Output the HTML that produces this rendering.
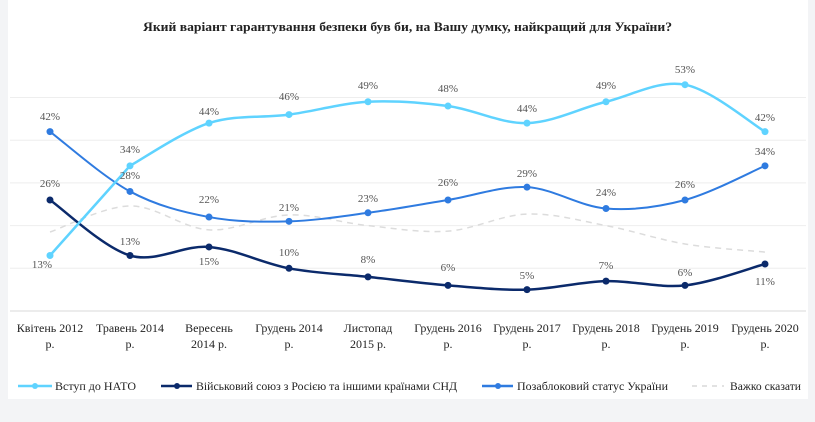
<!DOCTYPE html>
<html><head><meta charset="utf-8"><style>
body{margin:0;width:815px;height:422px;background:#f3f4f6;overflow:hidden}
</style></head><body>
<svg id="s" width="815" height="422" xmlns="http://www.w3.org/2000/svg" style="position:absolute;left:0;top:0;font-family:'Liberation Serif',serif">
<rect x="8" y="0" width="800" height="399" fill="#fff"/>
<text x="143" y="31" textLength="529" lengthAdjust="spacingAndGlyphs" font-size="13" font-weight="bold" fill="#222">Який варіант гарантування безпеки був би, на Вашу думку, найкращий для України?</text>
<g id="grid" stroke="#eeeeee" stroke-width="1"></g>
<line x1="10" y1="311" x2="806" y2="311" stroke="#d9d9d9"/>
<g id="lines"></g>
<g id="labels" font-size="11" fill="#555" text-anchor="middle"></g>
<g id="xl" font-size="12" fill="#222" text-anchor="middle"></g>
<g font-size="12" fill="#222">
<line x1="18" y1="386" x2="52" y2="386" stroke="#5fd3ff" stroke-width="2.5"/><circle cx="35" cy="386" r="3" fill="#5fd3ff"/>
<text x="55" y="390" textLength="81" lengthAdjust="spacingAndGlyphs">Вступ до НАТО</text>
<line x1="161" y1="386" x2="192" y2="386" stroke="#0b2a6b" stroke-width="2.5"/><circle cx="177" cy="386" r="3" fill="#0b2a6b"/>
<text x="196" y="390" textLength="261" lengthAdjust="spacingAndGlyphs">Військовий союз з Росією та іншими країнами СНД</text>
<line x1="482" y1="386" x2="513" y2="386" stroke="#2f7be0" stroke-width="2.5"/><circle cx="498" cy="386" r="3" fill="#2f7be0"/>
<text x="517" y="390" textLength="151" lengthAdjust="spacingAndGlyphs">Позаблоковий статус України</text>
<line x1="692" y1="386" x2="724" y2="386" stroke="#d9d9d9" stroke-width="1.5" stroke-dasharray="5,5"/>
<text x="730" y="390" textLength="71" lengthAdjust="spacingAndGlyphs">Важко сказати</text>
</g>
</svg>
<script>
const X=[50,130,209,289,368,448,527,606,685,765];
const Y=v=>311-4.27*v;
const ns="http://www.w3.org/2000/svg";
function el(t,a,p,txt){const e=document.createElementNS(ns,t);for(const k in a)e.setAttribute(k,a[k]);if(txt)e.textContent=txt;document.getElementById(p).appendChild(e);return e;}
[10,20,30,40,50].forEach(v=>el('line',{x1:10,x2:806,y1:Y(v),y2:Y(v)},'grid'));
function curve(p){let s='';
for(let i=0;i<p.length-1;i++){const p0=p[i-1]||p[i],p1=p[i],p2=p[i+1],p3=p[i+2]||p2;const t=6;
s+=` C${p1[0]+(p2[0]-p0[0])/t},${p1[1]+(p2[1]-p0[1])/t} ${p2[0]-(p3[0]-p1[0])/t},${p2[1]-(p3[1]-p1[1])/t} ${p2[0]},${p2[1]}`;}return s;}
const S=[
{d:[18.5,24.6,19,22.5,20,18.7,22.7,20,15.7,13.8],c:'#dcdcdc',w:1.5,dash:'6,5',m:false},
{d:[26,13,15,10,8,6,5,7,6,11],c:'#0b2a6b',w:2.5,m:true},
{d:[42,28,22,21,23,26,29,24,26,34],c:'#2f7be0',w:2,m:true},
{d:[13,34,44,46,49,48,44,49,53,42],c:'#5fd3ff',w:2.5,m:true,lin:true}];
S.forEach(s=>{const p=s.d.map((v,i)=>[X[i],Y(v)]);let dd;
if(s.lin){dd=`M${p[0][0]},${p[0][1]} L${p[1][0]},${p[1][1]}`+curve(p.slice(1));}
else dd=`M${p[0][0]},${p[0][1]}`+curve(p);
el('path',{d:dd,fill:'none',stroke:s.c,'stroke-width':s.w,'stroke-dasharray':s.dash||''},'lines');
if(s.m)p.forEach(q=>el('circle',{cx:q[0],cy:q[1],r:3.5,fill:s.c},'lines'));});
const L=[[42,268,13],[130,153,34],[209,115,44],[289,100,46],[368,89,49],[448,92,48],[527,112,44],[606,89,49],[685,73,53],[765,121,42],
[50,187,26],[130,245,13],[209,265,15],[289,256,10],[368,263,8],[448,271,6],[527,279,5],[606,269,7],[685,276,6],[765,285,11],
[50,120,42],[130,179,28],[209,203,22],[289,211,21],[368,202,23],[448,186,26],[527,177,29],[606,196,24],[685,188,26],[765,155,34]];
L.forEach(l=>el('text',{x:l[0],y:l[1]},'labels',l[2]+'%'));
const XL=[["Квітень 2012","р."],["Травень 2014","р."],["Вересень","2014 р."],["Грудень 2014","р."],["Листопад","2015 р."],["Грудень 2016","р."],["Грудень 2017","р."],["Грудень 2018","р."],["Грудень 2019","р."],["Грудень 2020","р."]];
XL.forEach((a,i)=>{el('text',{x:X[i],y:332},'xl',a[0]);el('text',{x:X[i],y:348},'xl',a[1]);});
</script>
</body></html>
